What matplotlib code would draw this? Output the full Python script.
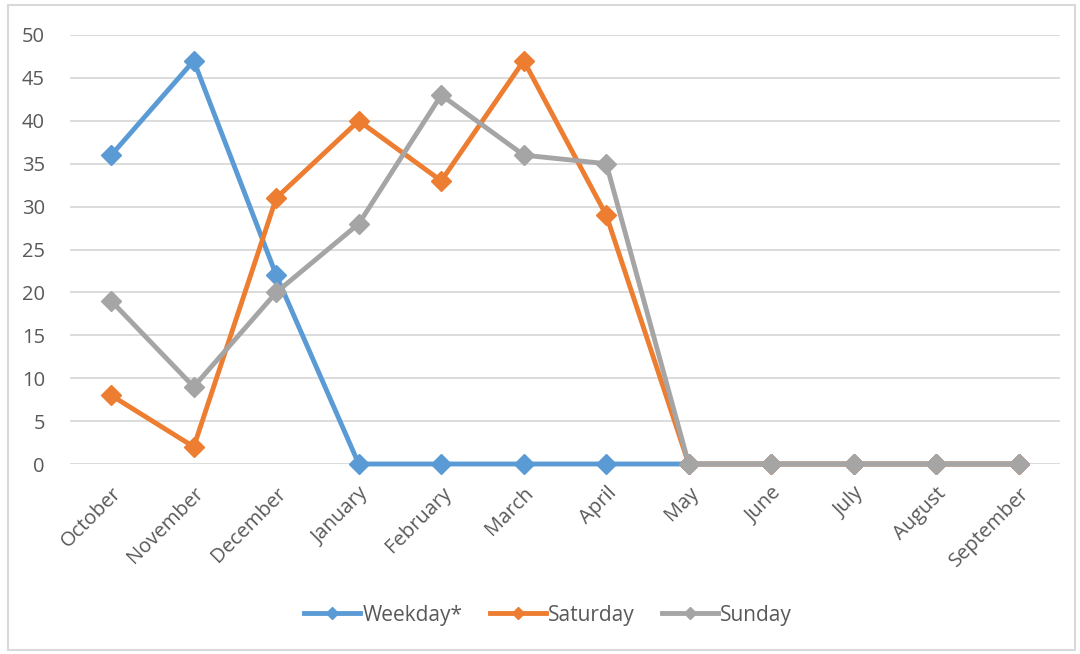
import matplotlib
matplotlib.use('Agg')
import matplotlib.pyplot as plt
from matplotlib.patches import Rectangle

months = ['October', 'November', 'December', 'January', 'February', 'March',
          'April', 'May', 'June', 'July', 'August', 'September']
weekday = [36, 47, 22, 0, 0, 0, 0, 0, 0, 0, 0, 0]
saturday = [8, 2, 31, 40, 33, 47, 29, 0, 0, 0, 0, 0]
sunday = [19, 9, 20, 28, 43, 36, 35, 0, 0, 0, 0, 0]

plt.rcParams['font.family'] = ['Open Sans', 'DejaVu Sans']

fig = plt.figure(figsize=(10.8, 6.54), dpi=100)
ax = fig.add_axes([70 / 1080, 190 / 654, 990 / 1080, 429 / 654])

# chart border like excel
fig.patches.append(Rectangle((8 / 1080, 4 / 654), 1067 / 1080, 645 / 654,
                             transform=fig.transFigure, fill=False,
                             edgecolor='#D9D9D9', linewidth=1.5))

x = list(range(len(months)))
for vals, col, lab in [(weekday, '#5B9BD5', 'Weekday*'),
                       (saturday, '#ED7D31', 'Saturday'),
                       (sunday, '#A5A5A5', 'Sunday')]:
    ax.plot(x, vals, color=col, lw=3.5, marker='D', markersize=10.5,
            label=lab, clip_on=False)

ax.set_xlim(-0.5, len(months) - 0.5)
ax.set_ylim(0, 50)
ax.set_yticks(range(0, 51, 5))
ax.set_xticks(x)
ax.set_xticklabels(months, rotation=45, ha='right', rotation_mode='anchor')
ax.tick_params(axis='both', length=0, labelsize=14.5, labelcolor='#595959')
ax.tick_params(axis='x', pad=14)
ax.tick_params(axis='y', pad=18)
ax.grid(axis='y', color='#D9D9D9', lw=1.3)
ax.set_axisbelow(True)
for s in ax.spines.values():
    s.set_visible(False)

leg = fig.legend(loc='center', bbox_to_anchor=(548 / 1080, 1 - 615 / 654),
                 ncol=3, frameon=False, fontsize=15, handlelength=2.7,
                 handletextpad=0.1, columnspacing=1.3)
for t in leg.get_texts():
    t.set_color('#595959')
for h in leg.get_lines():
    h.set_markersize(6)

fig.savefig('out.png', dpi=100)
